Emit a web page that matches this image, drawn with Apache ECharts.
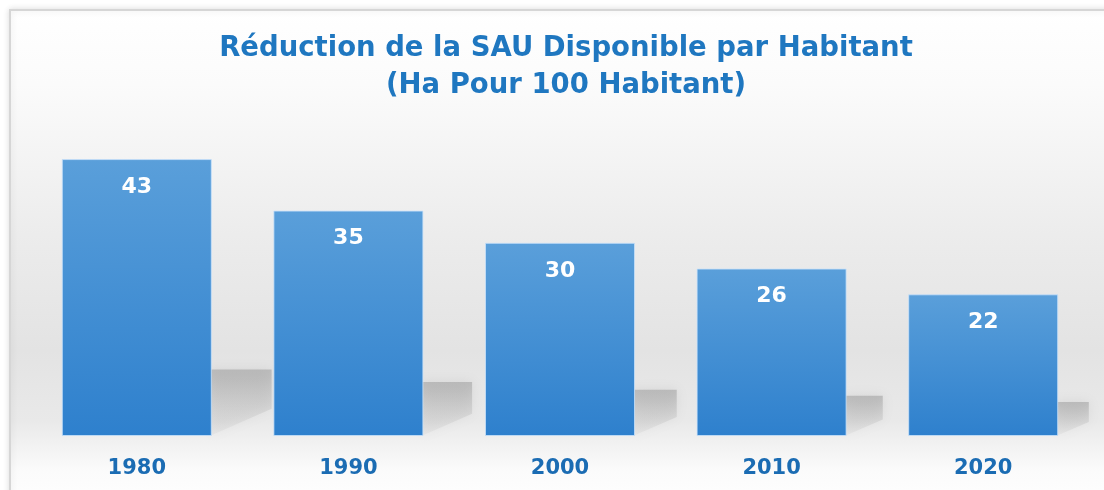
<!DOCTYPE html>
<html>
<head>
<meta charset="utf-8">
<script src="https://cdn.jsdelivr.net/npm/echarts@6/dist/echarts.min.js"></script>
<style>
  html, body { margin: 0; padding: 0; background: #ffffff; }
  #chart { width: 1104px; height: 490px; }
</style>
</head>
<body>
<div id="chart"></div>
<script>
// ---- data ----
const titleLine1 = 'Réduction de la SAU Disponible par Habitant';
const titleLine2 = '(Ha Pour 100 Habitant)';
const categories = ['1980', '1990', '2000', '2010', '2020'];
const values = [43, 35, 30, 26, 22];

const chart = echarts.init(document.getElementById('chart'), null, { renderer: 'canvas' });

const BAR_W = 150;

const option = {
  backgroundColor: '#ffffff',
  animation: false,
  graphic: [{
    type: 'rect',
    z: -10,
    shape: { x: 10, y: 10, width: 1110, height: 500 },
    style: {
      fill: new echarts.graphic.LinearGradient(0, 0, 0, 1, [
        { offset: 0, color: '#ffffff' },
        { offset: 0.15, color: '#fbfbfb' },
        { offset: 0.45, color: '#ececec' },
        { offset: 0.68, color: '#e3e3e3' },
        { offset: 0.82, color: '#e9e9e9' },
        { offset: 0.92, color: '#fbfbfb' },
        { offset: 1, color: '#ffffff' }
      ]),
      stroke: '#d6d6d6',
      lineWidth: 2,
      shadowBlur: 6,
      shadowColor: 'rgba(0,0,0,0.12)'
    }
  }],
  title: {
    text: titleLine1 + '\n' + titleLine2,
    left: 561,
    textAlign: 'center',
    top: 25,
    textStyle: {
      fontFamily: 'DejaVu Sans',
      fontWeight: 'bold',
      fontSize: 27.5,
      lineHeight: 37,
      color: '#1f77c0'
    }
  },
  grid: { left: 31, right: 15, top: 114, bottom: 54, containLabel: false },
  xAxis: {
    type: 'category',
    data: categories,
    axisLine: { show: false },
    axisTick: { show: false },
    axisLabel: {
      margin: 22,
      fontFamily: 'DejaVu Sans',
      fontWeight: 'bold',
      fontSize: 21,
      color: '#1b6cb3'
    }
  },
  yAxis: {
    type: 'value',
    min: 0,
    max: 50,
    show: false,
    splitLine: { show: false }
  },
  series: [
    {
      type: 'custom',
      z: 1,
      data: values.map((v, i) => [i, v]),
      renderItem: function (params, api) {
        const idx = api.value(0);
        const v = api.value(1);
        const top = api.coord([idx, v]);
        const base = api.coord([idx, 0]);
        const xR = base[0] + BAR_W / 2;
        const h = base[1] - top[1];
        const s = 0.24 * h;
        const w = 0.9 * s;
        return {
          type: 'polygon',
          shape: {
            points: [
              [xR - 2, base[1]],
              [xR - 2, base[1] - s],
              [xR + w, base[1] - s],
              [xR + w, base[1] - 0.41 * s]
            ]
          },
          style: {
            fill: new echarts.graphic.LinearGradient(0, 0, 0, 1, [
              { offset: 0, color: 'rgba(150,150,150,0.5)' },
              { offset: 1, color: 'rgba(190,190,190,0.15)' }
            ]),
            shadowBlur: 12,
            shadowColor: 'rgba(150,150,150,0.45)'
          }
        };
      }
    },
    {
      type: 'bar',
      z: 2,
      data: values,
      barWidth: BAR_W,
      itemStyle: {
        color: new echarts.graphic.LinearGradient(0, 0, 0, 1, [
          { offset: 0, color: '#5a9fda' },
          { offset: 1, color: '#2e80cd' }
        ]),
        borderColor: 'rgba(200,225,250,0.8)',
        borderWidth: 1
      },
      label: {
        show: true,
        position: 'insideTop',
        distance: 17,
        fontFamily: 'DejaVu Sans',
        fontWeight: 'bold',
        fontSize: 22,
        color: '#ffffff'
      }
    }
  ]
};

chart.setOption(option);
</script>
</body>
</html>
